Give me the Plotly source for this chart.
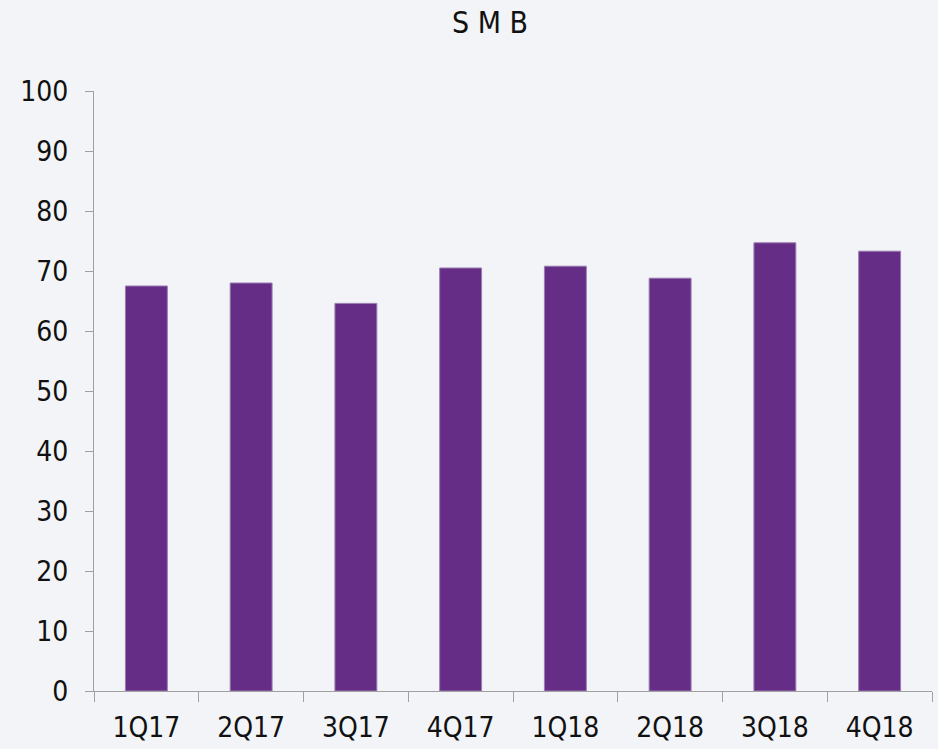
import plotly.graph_objects as go

categories = ["1Q17", "2Q17", "3Q17", "4Q17", "1Q18", "2Q18", "3Q18", "4Q18"]
values = [67.5, 68.0, 64.6, 70.5, 70.8, 68.8, 74.7, 73.3]
y_ticks = list(range(0, 101, 10))

FONT = "DejaVu Sans Condensed, sans-serif"
BG = "#f2f4f7"

fig = go.Figure(go.Bar(
    x=categories, y=values,
    marker=dict(color="#652D86", line=dict(color="#9a7db3", width=1)),
    width=0.4,
))

fig.update_layout(
    width=938, height=749,
    margin=dict(l=94, r=6, t=91, b=58),
    paper_bgcolor=BG, plot_bgcolor=BG,
    showlegend=False,
    font=dict(family=FONT, color="#111111", size=28),
)
fig.add_annotation(text="S M B", x=(490 - 94) / 838, xref="paper", y=1 + (91 - 22) / 600,
                   yref="paper", showarrow=False, font=dict(size=30, family=FONT, color="#111"),
                   xanchor="center", yanchor="middle")

fig.update_yaxes(range=[0, 100], tickvals=y_ticks, showgrid=False, zeroline=False,
                 showline=True, linecolor="#a0a0a0", linewidth=1,
                 ticks="outside", ticklen=8, tickcolor="#a0a0a0",
                 tickfont=dict(size=28, family=FONT, color="#111"), ticklabelstandoff=11)
fig.update_xaxes(showgrid=False, showline=True, linecolor="#a0a0a0", linewidth=1,
                 ticks="outside", tickson="boundaries", ticklen=10, tickcolor="#a0a0a0",
                 tickfont=dict(size=28, family=FONT, color="#111"), ticklabelstandoff=11)

fig.write_html("out.html", config={"displayModeBar": False}, post_script=(
    "document.body.style.margin='0';document.body.style.background='%s';" % BG))
